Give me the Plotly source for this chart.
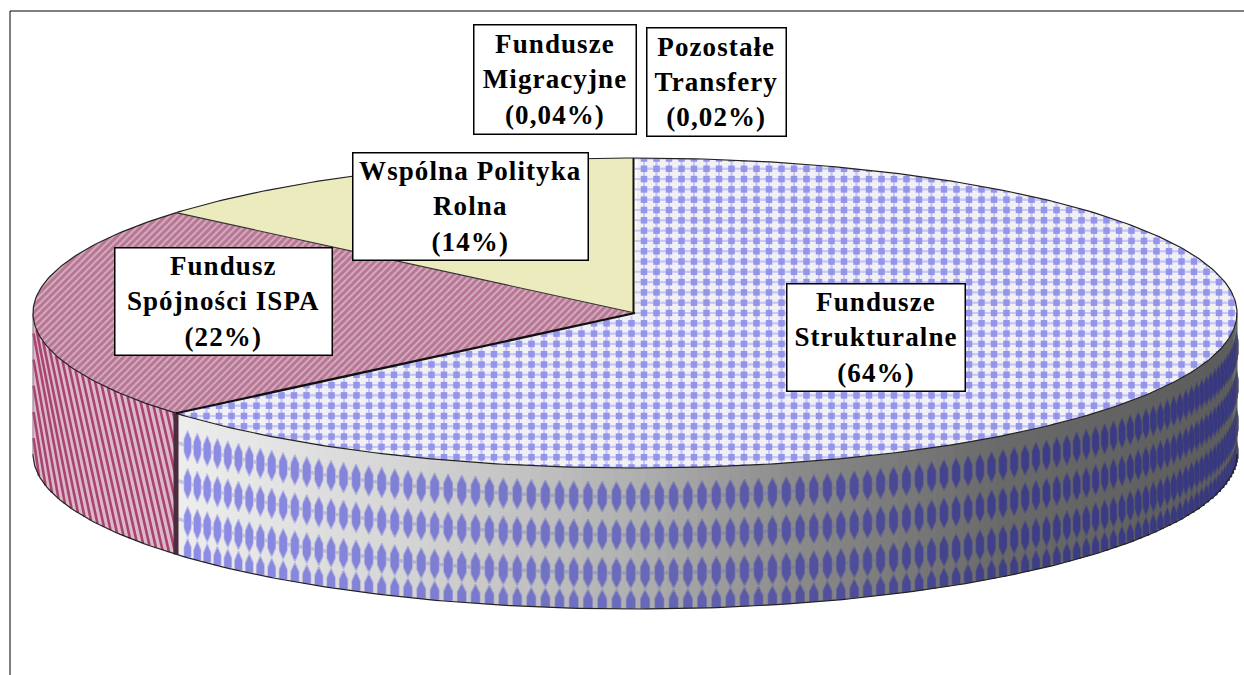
import numpy as np
import plotly.graph_objects as go

categories = ["Fundusze<br>Strukturalne", "Fundusz<br>Spójności ISPA", "Wspólna Polityka<br>Rolna",
              "Fundusze<br>Migracyjne", "Pozostałe<br>Transfery"]
percent_labels = ["(64%)", "(22%)", "(14%)", "(0,04%)", "(0,02%)"]
values = [63.8, 22.4, 13.74, 0.04, 0.02]

W, H = 1244, 675
CX, CY, RX, RY, DEPTH = 635, 313, 602, 155, 141

angles = 360 * np.cumsum([0] + values) / sum(values)

def ex(t):
    return CX + RX * np.sin(np.radians(t))

def ey(t):
    return CY - RY * np.cos(np.radians(t))

def rim_lower(x):
    return CY + RY * np.sqrt(np.maximum(0, 1 - ((x - CX) / RX) ** 2))

def shade(x):
    return np.interp(x, [177, 400, 635, 800, 1000, 1237], [238, 214, 176, 138, 106, 92])

fig = go.Figure()

def add_poly(xs, ys, color, **kw):
    fig.add_trace(go.Scatter(x=xs, y=ys, mode="lines", fill="toself", fillcolor=color,
                             line=dict(width=0, color=color), hoverinfo="skip", showlegend=False, **kw))

def add_line(xs, ys, color, width, **kw):
    fig.add_trace(go.Scatter(x=xs, y=ys, mode="lines", line=dict(color=color, width=width, **kw),
                             hoverinfo="skip", showlegend=False))

def wedge(a0, a1):
    t = np.linspace(a0, a1, max(int(a1 - a0) * 2, 2))
    return np.r_[CX, ex(t), CX], np.r_[CY, ey(t), CY]

end_blue, end_red = angles[1], angles[2]

# ---------- top: blue slice with woven grid (walls and the white cover trim it afterwards)
xs, ys = wedge(angles[0] + 0.25, end_blue)
add_poly(xs, ys, "#f0f0f5")

gx = CX + 9 + 12.5 * np.arange(-50, 50)
gy = CY + 10.3 * np.arange(-16, 16)
GX, GY = np.meshgrid(gx, gy)
GX, GY = GX.ravel(), GY.ravel()
dx, dy = GX - CX, GY - CY
ang = np.degrees(np.arctan2(dx / RX, -dy / RY)) % 360
inside = ((dx / RX) ** 2 + (dy / RY) ** 2 < 1.06) & (ang < end_blue + 1) & (ang > 0.2) & (GX < CX + RX)
for sym, size, color, lw in [("line-ew", 13, "#c8c8f5", 2), ("line-ns", 11, "#c8c8f5", 2)]:
    fig.add_trace(go.Scatter(x=GX[inside], y=GY[inside], mode="markers", hoverinfo="skip", showlegend=False,
                             marker=dict(symbol=sym, size=size, line=dict(color=color, width=lw))))
fig.add_trace(go.Scatter(x=GX[inside], y=GY[inside], mode="markers", hoverinfo="skip", showlegend=False,
                         marker=dict(symbol="square", size=6.5, color="#9494ea", line=dict(width=0))))

# white covers that trim the grid along the upper rim and the right edge
t = np.linspace(-90, 90, 240)
add_poly(np.r_[0, ex(t), W, W, 0], np.r_[CY, ey(t), CY, CY - RY - 14, CY - RY - 14], "white")
add_poly([CX + RX, W, W, CX + RX], [CY, CY, CY + DEPTH, CY + DEPTH], "white")

# ---------- blue side wall: shaded strips
step = 1.0
for t0 in np.arange(90, end_blue, step):
    t1 = min(t0 + step + 0.35, end_blue)
    t = np.array([t0, t1])
    g = int(shade(ex((t0 + t1) / 2)))
    add_poly(np.r_[ex(t), ex(t[::-1])], np.r_[ey(t), ey(t[::-1]) + DEPTH], f"rgb({g},{g},{g})")

# ---------- blue side wall: woven rows and blobs
row_offsets = [29, 67, 105, 137]
col_step = 1.36
col_angles = np.arange(92, end_blue - 0.5, col_step)
for off in row_offsets[:3]:
    t = np.linspace(90.5, end_blue - 0.2, 160)
    add_line(ex(t), ey(t) + off, "rgba(95,95,205,0.28)", 3.5)

blob = [(-0.15, -1), (0.15, -1), (0.5, -0.75), (1, -0.45), (1, 0.45), (0.5, 0.75), (0.15, 1),
        (-0.15, 1), (-0.5, 0.75), (-1, 0.45), (-1, -0.45), (-0.5, -0.75), (-0.15, -1)]
for t in col_angles:
    x0, y0 = ex(t), ey(t)
    g = shade(x0)
    w = 1.8 + 3.2 * abs(np.cos(np.radians(t)))
    r, b = g * 0.60, 0.72 * g + 60
    core = f"rgb({int(r)},{int(r)},{int(b)})"
    halo = f"rgb({int((r+g)/2)},{int((r+g)/2)},{int((b+g)/2)})"
    for color, sw, h in [(halo, 1.0, 15.5), (core, 0.85, 13)]:
        xs, ys = [], []
        for off in row_offsets:
            xs += [x0 + p[0] * (w * sw) for p in blob] + [None]
            ys += [y0 + min(off + p[1] * h, DEPTH - 0.5) for p in blob] + [None]
        add_poly(xs, ys, color)

# ---------- red side wall
tr = np.linspace(end_blue, 270, 50)
add_poly(np.r_[ex(tr), ex(tr[::-1])], np.r_[ey(tr), ey(tr[::-1]) + DEPTH], "#dcb9ca")
x_seam = ex(end_blue)
slant = 35.0
sx, sy = [], []
for xtop in np.arange(x_seam - 3, CX - RX - slant, -6.5):
    xa = max(xtop, CX - RX + 0.5)
    xb = min(xtop + slant, x_seam)
    sx += [xa, xb, None]
    sy += [rim_lower(xa) + DEPTH * (xa - xtop) / slant, rim_lower(xb) + DEPTH * (xb - xtop) / slant, None]
add_line(sx, sy, "#a8446f", 2.6)

# dark seam between the two walls
seam = end_blue
add_line([ex(seam), ex(seam)], [ey(seam), ey(seam) + DEPTH], "#4a2c3c", 5)

# ---------- wall outlines
t = np.linspace(90, 270, 220)
add_line(ex(t), ey(t) + DEPTH, "#222222", 1.2)
add_line([CX - RX, CX - RX], [CY, CY + DEPTH], "#8a6a7a", 1)
add_line([CX + RX, CX + RX], [CY, CY + DEPTH], "#555555", 1)

# ---------- top: red and yellow slices
xs, ys = wedge(end_blue, end_red)
fig.add_trace(go.Scatter(x=xs, y=ys, mode="lines", fill="toself", line=dict(width=0), hoverinfo="skip",
                         showlegend=False, fillcolor="#c898ae",
                         fillpattern=dict(shape="/", size=5, solidity=0.6, fgcolor="#9c3c68", bgcolor="#d4aec0")))
xs, ys = wedge(end_red, angles[3])
add_poly(xs, ys, "#ecebbd")

# ---------- top outlines
t = np.linspace(0, 360, 500)
add_line(ex(t), ey(t), "#222222", 1.2)
add_line([CX, ex(end_blue)], [CY, ey(end_blue)], "#111111", 2.2)
add_line([CX, ex(end_red)], [CY, ey(end_red)], "#333333", 1.2)
add_line([CX - 1.5, CX - 1.5], [CY, ey(0)], "#111111", 2)

# ---------- labels
label_centers = [(876, 337), (223, 301), (470, 206), (554.5, 79), (716, 81.5)]
label_sizes = [(177, 106), (216, 106), (234, 106), (161, 108), (138, 107)]
annotations = []
for cat, pct, (lx, ly), (bw, bh) in zip(categories, percent_labels, label_centers, label_sizes):
    annotations.append(dict(x=lx, y=ly, xref="x", yref="y", xanchor="center", yanchor="middle",
                            text=f"<b>{cat}<br>{pct}</b>", showarrow=False, align="center", valign="middle",
                            width=bw, height=bh, bgcolor="white", bordercolor="black", borderwidth=1.5,
                            borderpad=0, font=dict(family="Liberation Serif", size=27, color="black")))

fig.update_layout(
    width=W, height=H, margin=dict(l=0, r=0, t=0, b=0),
    paper_bgcolor="white", plot_bgcolor="white", showlegend=False,
    xaxis=dict(range=[0, W], visible=False, fixedrange=True),
    yaxis=dict(range=[H, 0], visible=False, fixedrange=True),
    annotations=annotations,
    shapes=[dict(type="line", x0=10, x1=W, y0=11, y1=11, line=dict(color="black", width=1)),
            dict(type="line", x0=10, x1=10, y0=11, y1=H, line=dict(color="black", width=1))],
)
fig.write_html("out.html", config={"displayModeBar": False},
               post_script="document.body.style.margin='0';document.documentElement.style.overflow='hidden';"
                           "document.querySelectorAll('.annotation-text').forEach(function(e){e.style.letterSpacing='1.1px';});")
